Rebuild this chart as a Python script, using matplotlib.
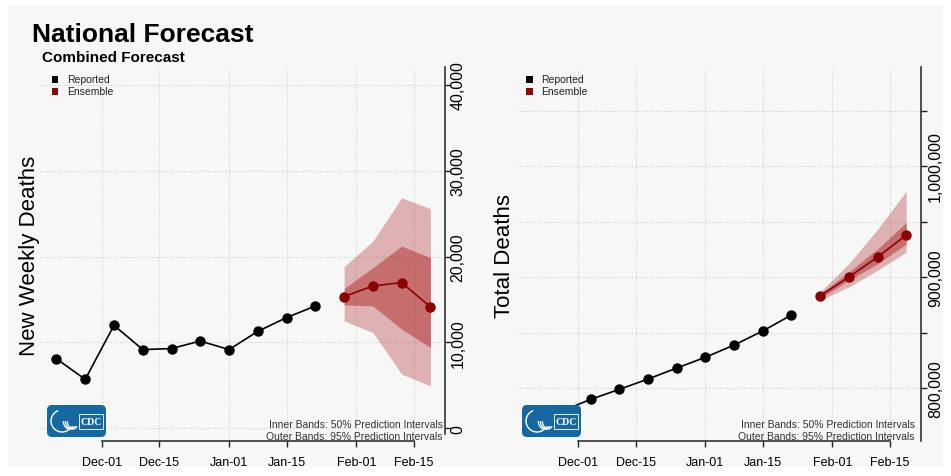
import datetime as dt

import matplotlib
matplotlib.use("Agg")
import matplotlib.pyplot as plt
import matplotlib.dates as mdates
from matplotlib.patches import FancyBboxPatch, Rectangle, Arc
from matplotlib.ticker import NullFormatter

plt.rcParams["font.family"] = ["Liberation Sans", "DejaVu Sans"]

# weekly data points (Saturdays)
reported_dates = ["2021-11-20", "2021-11-27", "2021-12-04", "2021-12-11", "2021-12-18",
                  "2021-12-25", "2022-01-01", "2022-01-08", "2022-01-15", "2022-01-22"]
forecast_dates = ["2022-01-29", "2022-02-05", "2022-02-12", "2022-02-19"]
tick_dates = ["2021-12-01", "2021-12-15", "2022-01-01", "2022-01-15", "2022-02-01", "2022-02-15"]

# new weekly deaths
weekly_reported = [8100, 5700, 12000, 9170, 9290, 10170, 9170, 11300, 12900, 14250]
weekly_median = [15350, 16580, 16980, 14140]
weekly_lo50 = [14380, 14260, 11550, 9420]
weekly_hi50 = [16280, 18720, 21230, 19880]
weekly_lo95 = [12510, 11160, 6310, 4950]
weekly_hi95 = [18840, 21810, 26860, 25580]

# total deaths
total_reported = [770000, 779300, 789800, 798800, 808100, 818000, 827700, 838700, 851400, 865800]
total_median = [883000, 900000, 917900, 937800]
total_lo50 = [881000, 897000, 911900, 929700]
total_hi50 = [885000, 904500, 925300, 949100]
total_lo95 = [879000, 891000, 906000, 922300]
total_hi95 = [886600, 912000, 943000, 977300]


def to_dates(lst):
    return [dt.datetime.strptime(s, "%Y-%m-%d") for s in lst]


rep_x = to_dates(reported_dates)
fc_x = to_dates(forecast_dates)
ticks_x = to_dates(tick_dates)

W, H = 951, 477
fig = plt.figure(figsize=(W / 100, H / 100), dpi=100)
fig.patch.set_facecolor("white")
T = fig.dpi_scale_trans


def px(x, y):
    # pixel coords (top-left origin) -> inches for dpi_scale_trans
    return x / 100, (H - y) / 100


# light grey panel behind everything
x0, y0 = px(8, 467)
fig.add_artist(Rectangle((x0, y0), 935 / 100, 460 / 100, transform=T,
                         facecolor="#f7f7f7", edgecolor="none", zorder=-5))

DARKRED = "#8b0000"
BAND = "#a00000"


def draw_logo(left, top):
    bx, by = px(left, top + 32)
    fig.add_artist(FancyBboxPatch((bx, by), 0.59, 0.32, transform=T,
                                  boxstyle="round,pad=0,rounding_size=0.05",
                                  facecolor="#1569a0", edgecolor="none", zorder=5))
    cx, cy = px(left + 15, top + 16)
    fig.add_artist(Arc((cx, cy), 0.22, 0.22, theta1=110, theta2=330, transform=T,
                       color="white", lw=1.0, zorder=6))
    for k in range(3):
        fig.add_artist(Arc((cx + 0.07 + 0.02 * k, cy + 0.02), 0.12, 0.2, theta1=200, theta2=300,
                           transform=T, color="white", lw=0.9, zorder=6))
    rx, ry = px(left + 32, top + 24)
    fig.add_artist(Rectangle((rx, ry), 0.24, 0.15, transform=T, facecolor="none",
                             edgecolor="white", lw=0.6, zorder=6))
    tx, ty = px(left + 44, top + 16.5)
    fig.text(tx, ty, "CDC", transform=T, color="white", fontsize=7, fontweight="bold",
             family=["Liberation Serif", "DejaVu Serif"], ha="center", va="center", zorder=7)


def make_panel(rect, reported, median, lo50, hi50, lo95, hi95, ylim, yticks, ylabels,
               spine_lo, label_off):
    ax = fig.add_axes(rect)
    ax.set_facecolor("none")
    ax.fill_between(fc_x, lo95, hi95, color=BAND, alpha=0.28, lw=0, zorder=2)
    ax.fill_between(fc_x, lo50, hi50, color=BAND, alpha=0.38, lw=0, zorder=3)
    ax.plot(rep_x, reported, color="black", lw=1.2, marker="o", ms=6.5, zorder=4)
    ax.plot(fc_x, median, color=DARKRED, lw=1.2, marker="o", ms=6.5, zorder=4)

    ax.set_xlim(dt.datetime(2021, 11, 16), dt.datetime(2022, 2, 22, 13))
    ax.set_ylim(*ylim)
    ax.set_xticks(ticks_x)
    ax.xaxis.set_major_formatter(mdates.DateFormatter("%b-%d"))
    ax.set_yticks(yticks)
    ax.yaxis.set_major_formatter(NullFormatter())
    ax.yaxis.tick_right()

    # rotated y labels, centred on their ticks
    for v in ylabels:
        ax.text(1 + label_off / (rect[2] * W), v, f"{v:,}", transform=ax.get_yaxis_transform(),
                rotation=90, ha="center", va="center", fontsize=11.5, clip_on=False)

    for side in ["top", "left"]:
        ax.spines[side].set_visible(False)
    ax.spines["bottom"].set_bounds(mdates.date2num(ticks_x[0]), mdates.date2num(ticks_x[-1]))
    ax.spines["right"].set_bounds(spine_lo, ylim[1])
    for side in ["bottom", "right"]:
        ax.spines[side].set_color("#222222")
        ax.spines[side].set_linewidth(1.1)

    ax.tick_params(axis="x", length=4, width=1, color="#222222", labelsize=9, pad=7)
    ax.tick_params(axis="y", length=4, width=1, color="#222222")

    ax.grid(True, color="#cfcfcf", linestyle=":", linewidth=0.8, zorder=0)
    return ax


# left panel: New Weekly Deaths
ax1 = make_panel([40 / W, 1 - 442 / H, 405 / W, 374 / H],
                 weekly_reported, weekly_median, weekly_lo50, weekly_hi50, weekly_lo95, weekly_hi95,
                 (-1480, 42095), [0, 10000, 20000, 30000, 40000],
                 [0, 10000, 20000, 30000, 40000], -700, 13)

# right panel: Total Deaths
ax2 = make_panel([517 / W, 1 - 442 / H, 403.7 / W, 374 / H],
                 total_reported, total_median, total_lo50, total_hi50, total_lo95, total_hi95,
                 (752250, 1089200), [800000, 850000, 900000, 950000, 1000000, 1050000],
                 [800000, 900000, 1000000], 752250, 15)

# titles and axis labels
fig.text(*px(32, 35), "National Forecast", transform=T, fontsize=19, fontweight="bold",
         ha="left", va="center")
fig.text(*px(42, 58), "Combined Forecast", transform=T, fontsize=11, fontweight="bold",
         ha="left", va="center")
fig.text(*px(30, 256), "New Weekly Deaths", transform=T, fontsize=16, rotation=90,
         ha="center", va="center")
fig.text(*px(505, 256), "Total Deaths", transform=T, fontsize=16, rotation=90,
         ha="center", va="center")

# legends
for lx in [55, 529]:
    for ly, col, name in [(80.5, "black", "Reported"), (92.5, DARKRED, "Ensemble")]:
        sx, sy = px(lx - 3.5, ly + 3.5)
        fig.add_artist(Rectangle((sx, sy), 0.07, 0.07, transform=T, facecolor=col,
                                 edgecolor="none", zorder=6))
        fig.text(*px(lx + 12, ly), name, transform=T, fontsize=7.5, ha="left", va="center",
                 color="#222222")

# band notes
for rx in [443, 915]:
    fig.text(*px(rx, 425), "Inner Bands: 50% Prediction Intervals", transform=T,
             fontsize=7.5, ha="right", va="center", color="#333333", zorder=6)
    fig.text(*px(rx, 437), "Outer Bands: 95% Prediction Intervals", transform=T,
             fontsize=7.5, ha="right", va="center", color="#333333", zorder=6)

draw_logo(47, 406)
draw_logo(522, 406)

fig.savefig("out.png", dpi=100)
